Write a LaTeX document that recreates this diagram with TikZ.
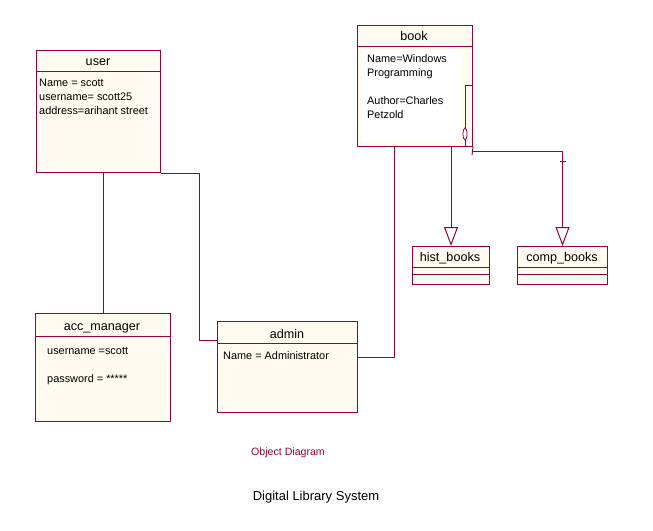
\documentclass[tikz,border=0pt]{standalone}
\usepackage{fontspec}
\setmainfont{Liberation Sans}
\usetikzlibrary{arrows.meta,shapes.geometric}
\definecolor{umlline}{RGB}{153,0,51}
\definecolor{umlfill}{RGB}{255,251,240}
\begin{document}
\begin{tikzpicture}[x=1pt,y=-1pt,
  objbox/.style={draw=umlline, fill=umlfill, line width=1pt, rectangle, inner sep=0pt, anchor=north west},
  sep/.style={draw=umlline, line width=1pt},
  conn/.style={draw=umlline, line width=1pt},
  head/.style={anchor=base, inner sep=0pt, font=\fontsize{12.6}{14}\selectfont},
  attr/.style={anchor=base west, inner sep=0pt, font=\fontsize{10.9}{14}\selectfont},
  gen/.style={conn, -{Triangle[open, length=19pt, width=14pt, fill=white]}}]
\useasboundingbox (0,0) rectangle (653,530);
\fill[white] (0,0) rectangle (653,530);

% boxes
\node[objbox, minimum width=124pt, minimum height=122pt] (user) at (36,50) {};
\node[objbox, minimum width=135pt, minimum height=108pt] (acc) at (35,313) {};
\node[objbox, minimum width=140pt, minimum height=91pt] (admin) at (217,321) {};
\node[objbox, minimum width=115pt, minimum height=121pt] (book) at (357,25) {};
\node[objbox, minimum width=77pt, minimum height=38pt] (hist) at (412,246) {};
\node[objbox, minimum width=90pt, minimum height=38pt] (comp) at (517,246) {};

\fill[white] (362,49) rectangle (462,142);

% compartment lines
\draw[sep] (36,71) -- (160,71);
\draw[sep] (35,336) -- (170,336);
\draw[sep] (217,343) -- (357,343);
\draw[sep] (357,46) -- (472,46);
\draw[sep] (412,267) -- (489,267);
\draw[sep] (412,274) -- (489,274);
\draw[sep] (517,267) -- (607,267);
\draw[sep] (517,274) -- (607,274);

% headers
\node[head] (userh) at (98,65.5) {user};
\node[head] (bookh) at (414,40.5) {book};
\node[head] (acch) at (102,330.5) {acc\_manager};
\node[head] (adminh) at (287,338.5) {admin};
\node[head] (histh) at (450,261.5) {hist\_books};
\node[head] (comph) at (562,261.5) {comp\_books};

% attributes
\node[attr] (u1) at (39,86) {Name = scott};
\node[attr] (u2) at (39,100) {username= scott25};
\node[attr] (u3) at (39,114) {address=arihant street};
\node[attr] (b1) at (367,62) {Name=Windows};
\node[attr] (b2) at (367,76) {Programming};
\node[attr] (b3) at (367,104) {Author=Charles};
\node[attr] (b4) at (367,118) {Petzold};
\node[attr] (a1) at (47,354) {username =scott};
\node[attr] (a2) at (47,382) {password = *****};
\node[attr] (d1) at (223,359) {Name = Administrator};

% connectors
\draw[conn] (acc.north |- user.south) -- (acc.north);
\coordinate (j1) at (199,340);
\draw[conn] (user.south east) -| (j1) -- (j1 -| admin.west);
\coordinate (j2) at (394,357);
\draw[conn] (j2 -| admin.east) -- (j2) -- (j2 |- book.south);
\coordinate (j3) at (465,85);
\draw[conn] (j3 -| book.east) -- (j3) -- (j3 |- book.south);
\node[draw=umlline, line width=0.8pt, ellipse, minimum width=4pt, minimum height=12pt, inner sep=0pt, fill=white] (agg) at (465,134) {};
\draw[gen] (hist.north |- book.south) -- (hist.north);
\coordinate (j4) at (472,151);
\draw[conn] (book.south east) -- (472,155);
\draw[gen] (j4) -| (comp.north);
\coordinate (tk) at (563,161);
\draw[conn] ([xshift=-3pt]tk) -- ([xshift=3pt]tk);

% captions
\node[inner sep=0pt, text=umlline, font=\fontsize{10.6}{12}\selectfont] (cap1) at (288,453) {Object Diagram};
\node[inner sep=0pt, font=\fontsize{13}{15}\selectfont] (cap2) at (316,497) {Digital Library System};
\end{tikzpicture}
\end{document}
